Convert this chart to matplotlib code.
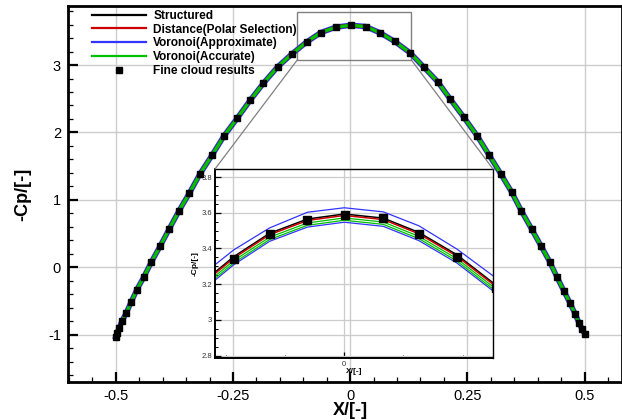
import matplotlib
matplotlib.use("Agg")
import matplotlib.pyplot as plt
from matplotlib.patches import Rectangle, ConnectionPatch
from matplotlib.ticker import MultipleLocator

plt.rcParams["font.family"] = ["Liberation Sans", "DejaVu Sans"]

# ---- fine cloud results (markers) ----
x_fine = [-0.500, -0.497, -0.493, -0.487, -0.478, -0.467, -0.455, -0.440, -0.424, -0.405,
          -0.386, -0.365, -0.343, -0.320, -0.294, -0.269, -0.241, -0.213, -0.185, -0.155,
          -0.125, -0.093, -0.063, -0.031, 0.001, 0.033, 0.063, 0.095, 0.128, 0.157,
          0.187, 0.214, 0.242, 0.271, 0.296, 0.321, 0.345, 0.365, 0.387, 0.407,
          0.426, 0.441, 0.456, 0.469, 0.480, 0.488, 0.495, 0.501]
cp_fine = [-1.03, -0.97, -0.90, -0.80, -0.68, -0.51, -0.33, -0.14, 0.08, 0.32,
           0.57, 0.84, 1.10, 1.39, 1.67, 1.95, 2.21, 2.48, 2.73, 2.97,
           3.16, 3.34, 3.48, 3.56, 3.59, 3.57, 3.48, 3.35, 3.18, 2.97,
           2.75, 2.49, 2.23, 1.95, 1.67, 1.39, 1.11, 0.84, 0.57, 0.32,
           0.08, -0.14, -0.35, -0.53, -0.69, -0.82, -0.92, -0.99]

# ---- zoomed view near the suction peak ----
x_zoom = [-0.125, -0.093, -0.063, -0.031, 0.0, 0.033, 0.063, 0.095, 0.128]
cp_structured = [3.180, 3.355, 3.485, 3.565, 3.593, 3.570, 3.490, 3.365, 3.195]
cp_distance = [3.172, 3.347, 3.477, 3.557, 3.585, 3.562, 3.482, 3.357, 3.187]
cp_vor_approx_hi = [3.225, 3.393, 3.515, 3.603, 3.628, 3.605, 3.527, 3.397, 3.235]
cp_vor_approx_lo = [3.135, 3.310, 3.440, 3.520, 3.547, 3.524, 3.444, 3.319, 3.150]
cp_vor_acc_a = [3.158, 3.333, 3.463, 3.543, 3.571, 3.548, 3.468, 3.343, 3.173]
cp_vor_acc_b = [3.145, 3.320, 3.450, 3.530, 3.558, 3.535, 3.455, 3.330, 3.160]

labels = ["Structured", "Distance(Polar Selection)", "Voronoi(Approximate)",
          "Voronoi(Accurate)", "Fine cloud results"]
c_black, c_red, c_blue, c_green = "black", "#cc0000", "#3333ff", "#00c000"
grid_c = "#cccccc"

fig = plt.figure(figsize=(6.22, 4.2), dpi=100)
ax = fig.add_axes([68 / 622, 1 - 382 / 420, 554 / 622, 376 / 420])

# main curves (all methods coincide at this scale)
l3, = ax.plot(x_fine, cp_fine, color=c_blue, lw=4.0, label=labels[2], zorder=3)
l1, = ax.plot(x_fine, cp_fine, color=c_black, lw=2.6, label=labels[0], zorder=4)
l2, = ax.plot(x_fine, cp_fine, color=c_red, lw=2.4, label=labels[1], zorder=5)
l4, = ax.plot(x_fine, cp_fine, color=c_green, lw=2.4, label=labels[3], zorder=6)
m, = ax.plot(x_fine, cp_fine, ls="none", marker="s", ms=4.8, color="black",
             label=labels[4], zorder=7)

ax.set_xlim(-0.602, 0.580)
ax.set_ylim(-1.70, 3.875)
ax.xaxis.set_minor_locator(MultipleLocator(0.05))
ax.yaxis.set_minor_locator(MultipleLocator(0.2))
ax.set_xticks([-0.5, -0.25, 0, 0.25, 0.5])
ax.set_xticklabels(["-0.5", "-0.25", "0", "0.25", "0.5"])
ax.set_yticks([-1, 0, 1, 2, 3])
ax.set_yticklabels(["-1", "0", "1", "2", "3"])
ax.tick_params(which="major", direction="in", length=7, width=1.6, labelsize=10.5, pad=5)
ax.tick_params(which="minor", direction="in", length=3.5, width=0.9)
ax.grid(True, which="major", color=grid_c, lw=1.0, zorder=0)
for s in ax.spines.values():
    s.set_linewidth(2.0)

ax.set_xlabel("X/[-]", fontsize=13, fontweight="bold")
ax.set_ylabel("-Cp/[-]", fontsize=13, fontweight="bold")
ax.xaxis.set_label_coords(0.509, -0.052)
ax.yaxis.set_label_coords(-0.066, 0.5)

ax.legend(handles=[l1, l2, l3, l4, m], loc="upper left", bbox_to_anchor=(0.043, 0.990),
          frameon=False, borderpad=0, borderaxespad=0, handlelength=4.5,
          handletextpad=0.65, labelspacing=0.15, prop={"weight": "bold", "size": 8.6})
for h in ax.get_legend().legend_handles[:4]:
    h.set_linewidth(1.6)

# zoom box on main axes
bx0, bx1, by0, by1 = -0.1125, 0.1302, 3.078, 3.789
ax.add_patch(Rectangle((bx0, by0), bx1 - bx0, by1 - by0, fill=False,
                       ec="#808080", lw=1.0, zorder=2))

# ---- inset ----
axins = fig.add_axes([215 / 622, 1 - 358 / 420, 278 / 622, 189 / 420])
axins.set_facecolor("none")
axins.plot(x_zoom, cp_vor_approx_hi, color=c_blue, lw=0.9)
axins.plot(x_zoom, cp_vor_approx_lo, color=c_blue, lw=0.9)
axins.plot(x_zoom, cp_vor_acc_a, color=c_green, lw=0.9)
axins.plot(x_zoom, cp_vor_acc_b, color=c_green, lw=0.9)
axins.plot(x_zoom, cp_structured, color=c_black, lw=1.1)
axins.plot(x_zoom, cp_distance, color=c_red, lw=1.1)
axins.plot(x_fine, cp_fine, ls="none", marker="s", ms=5.5, color="black")
axins.set_xlim(-0.109, 0.1255)
axins.set_ylim(2.787, 3.845)
axins.xaxis.set_minor_locator(MultipleLocator(0.05))
axins.yaxis.set_minor_locator(MultipleLocator(0.05))
axins.set_yticks([2.8, 3.0, 3.2, 3.4, 3.6, 3.8])
axins.set_yticklabels(["2.8", "3", "3.2", "3.4", "3.6", "3.8"])
axins.set_xticks([0])
axins.set_xticklabels(["0"])
axins.tick_params(which="major", direction="in", length=4, width=0.9, labelsize=5.5,
                  labelcolor="#333333", pad=2)
axins.tick_params(which="minor", direction="in", length=2.2, width=0.7)
axins.grid(True, which="major", color=grid_c, lw=0.9)
axins.spines["left"].set_linewidth(1.4)
axins.spines["bottom"].set_linewidth(1.4)
axins.spines["top"].set_linewidth(1.0)
axins.spines["right"].set_linewidth(1.0)
axins.set_xlabel("X/[-]", fontsize=6, fontweight="bold", labelpad=0)
axins.set_ylabel("-Cp/[-]", fontsize=6, fontweight="bold", labelpad=2)

for xa, xb in [(bx0, 0), (bx1, 1)]:
    con = ConnectionPatch(xyA=(xa, by0), coordsA=ax.transData,
                          xyB=(xb, 1), coordsB=axins.transAxes,
                          color="#808080", lw=0.9)
    fig.add_artist(con)

fig.savefig("out.png", dpi=100)
